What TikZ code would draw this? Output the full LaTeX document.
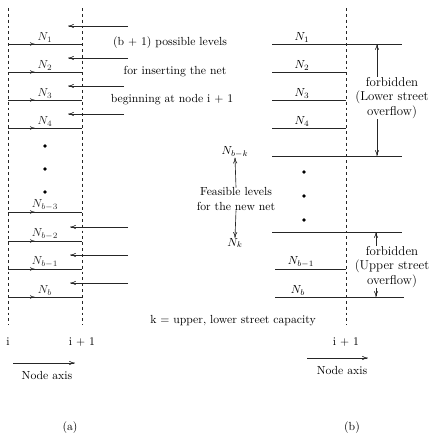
\documentclass[tikz,border=0pt]{standalone}
\usepackage{amsmath}
\usepackage{xcolor}
\colorlet{inkline}{black!85}
\usetikzlibrary{arrows.meta,decorations.markings,positioning}

\begin{document}
\begin{tikzpicture}[
  x=0.3mm, y=-0.3mm,
  font=\normalsize,
  axis/.style={dash pattern=on 2.4pt off 2.6pt, line width=0.5pt, color=inkline},
  level/.style={line width=0.55pt, color=inkline},
  levelarr/.style={
    level, postaction={decorate},
    decoration={markings, mark=at position 0.36 with {\arrow{To[length=4pt,width=3pt]}}}
  },
  arr/.style={-{To[length=5pt,width=3.5pt]}, line width=0.55pt, color=inkline},
  lbl/.style={inner sep=1pt},
  dot/.style={circle, fill=black, inner sep=0pt, minimum size=3.2pt},
  txt/.style={align=center, inner sep=0pt},
  band/.style={txt, font=\fontsize{11}{12.5}\selectfont}
]
\useasboundingbox (0,0) rectangle (429,435);

% (a) node axes
\coordinate (aiTop) at (8,8);
\coordinate (aiBot) at (8,325);
\coordinate (ajTop) at (82,8);
\coordinate (ajBot) at (82,325);
\draw[axis] (aiTop) -- (aiBot);
\draw[axis] (ajTop) -- (ajBot);

% (a) levels
\coordinate (aL1) at (8,44);   \coordinate (aR1) at (82,44);
\coordinate (aL2) at (8,72);   \coordinate (aR2) at (82,72);
\coordinate (aL3) at (8,100);  \coordinate (aR3) at (82,100);
\coordinate (aL4) at (8,128);  \coordinate (aR4) at (82,128);
\coordinate (aL5) at (8,212);  \coordinate (aR5) at (82,212);
\coordinate (aL6) at (8,241);  \coordinate (aR6) at (82,241);
\coordinate (aL7) at (8,269);  \coordinate (aR7) at (82,269);
\coordinate (aL8) at (8,297);  \coordinate (aR8) at (82,297);
\draw[levelarr] (aL1) -- node[lbl, above] (aN1) {$N_1$} (aR1);
\draw[levelarr] (aL2) -- node[lbl, above] (aN2) {$N_2$} (aR2);
\draw[levelarr] (aL3) -- node[lbl, above] (aN3) {$N_3$} (aR3);
\draw[levelarr] (aL4) -- node[lbl, above] (aN4) {$N_4$} (aR4);
\draw[levelarr] (aL5) -- node[lbl, above] (aN5) {$N_{b-3}$} (aR5);
\draw[levelarr] (aL6) -- node[lbl, above] (aN6) {$N_{b-2}$} (aR6);
\draw[levelarr] (aL7) -- node[lbl, above] (aN7) {$N_{b-1}$} (aR7);
\draw[levelarr] (aL8) -- node[lbl, above] (aN8) {$N_b$} (aR8);

\node[dot] (aD1) at (45,146) {};
\node[dot] (aD2) at (45,169) {};
\node[dot] (aD3) at (45,192) {};

% (a) entering arrows
\coordinate (aIn1) at (128,26);  \coordinate (aAt1) at (68,26);
\coordinate (aIn2) at (128,58);  \coordinate (aAt2) at (68,58);
\coordinate (aIn3) at (124,86);  \coordinate (aAt3) at (68,86);
\coordinate (aIn4) at (124,114); \coordinate (aAt4) at (68,114);
\coordinate (aIn5) at (128,227); \coordinate (aAt5) at (70,227);
\coordinate (aIn6) at (128,255); \coordinate (aAt6) at (70,255);
\coordinate (aIn7) at (128,283); \coordinate (aAt7) at (70,283);
\draw[arr] (aIn1) -- (aAt1);
\draw[arr] (aIn2) -- (aAt2);
\draw[arr] (aIn3) -- (aAt3);
\draw[arr] (aIn4) -- (aAt4);
\draw[arr] (aIn5) -- (aAt5);
\draw[arr] (aIn6) -- (aAt6);
\draw[arr] (aIn7) -- (aAt7);

\node[txt] (possible) at (170,43) {(b $+$ 1) possible levels};
\node[txt] (inserting) at (175,72) {for inserting the net};
\node[txt] (beginning) at (172,100) {beginning at node i $+$ 1};

\node[txt] (aNodeI) at (8,342) {i};
\node[txt] (aNodeJ) at (82,342) {i $+$ 1};
\coordinate (aAxS) at (13,363);
\coordinate (aAxE) at (75,363);
\draw[arr] (aAxS) -- (aAxE);
\node[txt] (aAxis) at (47,375) {Node axis};
\node[txt] (capA) at (70,428) {(a)};

\node[txt] (capacity) at (233,321) {k $=$ upper, lower street capacity};

% (b) node axis
\coordinate (bjTop) at (346,8);
\coordinate (bjBot) at (346,325);
\draw[axis] (bjTop) -- (bjBot);

% (b) levels
\coordinate (bL1) at (272,44);  \coordinate (bR1) at (402,44);
\coordinate (bL2) at (272,72);  \coordinate (bR2) at (346,72);
\coordinate (bL3) at (272,100); \coordinate (bR3) at (346,100);
\coordinate (bL4) at (272,128); \coordinate (bR4) at (346,128);
\coordinate (bL5) at (272,156); \coordinate (bR5) at (402,156);
\coordinate (bL6) at (272,232); \coordinate (bR6) at (402,232);
\coordinate (bL7) at (275,269); \coordinate (bR7) at (346,269);
\coordinate (bL8) at (275,297); \coordinate (bR8) at (404,297);
\draw[level] (bL1) -- (bR1);
\draw[level] (bL2) -- (bR2);
\draw[level] (bL3) -- (bR3);
\draw[level] (bL4) -- (bR4);
\draw[level] (bL5) -- (bR5);
\draw[level] (bL6) -- (bR6);
\draw[level] (bL7) -- (bR7);
\draw[level] (bL8) -- (bR8);
\node[lbl, above] (bN1) at (302,44) {$N_1$};
\node[lbl, above] (bN2) at (302,72) {$N_2$};
\node[lbl, above] (bN3) at (302,100) {$N_3$};
\node[lbl, above] (bN4) at (302,128) {$N_4$};
\node[lbl, above] (bN7) at (301,269) {$N_{b-1}$};
\node[lbl, above] (bN8) at (298,297) {$N_b$};

\node[dot] (bD1) at (304,172) {};
\node[dot] (bD2) at (304,196) {};
\node[dot] (bD3) at (304,220) {};

% forbidden bands
\node[band] (lowerOv) at (392,98) {forbidden\\(Lower street\\overflow)};
\coordinate (lowUp) at (377,44);
\coordinate (lowDn) at (377,156);
\draw[arr] (lowerOv.north -| lowUp) -- (lowUp);
\draw[arr] (lowerOv.south -| lowDn) -- (lowDn);

\node[band] (upperOv) at (392,267) {forbidden\\(Upper street\\overflow)};
\coordinate (uppUp) at (376,232);
\coordinate (uppDn) at (376,297);
\draw[arr] (upperOv.north -| uppUp) -- (uppUp);
\draw[arr] (upperOv.south -| uppDn) -- (uppDn);

% feasible band
\node[txt] (feasible) at (236,199) {Feasible levels\\for the new net};
\node[txt] (nbk) at (235,152) {$N_{b-k}$};
\node[txt] (nk) at (235,243) {$N_k$};
\draw[arr] (feasible.north) -- (nbk.south);
\draw[arr] (feasible.south) -- (nk.north);

\node[txt] (bNodeJ) at (346,342) {i $+$ 1};
\coordinate (bAxS) at (307,358);
\coordinate (bAxE) at (368,358);
\draw[arr] (bAxS) -- (bAxE);
\node[txt] (bAxis) at (342,370) {Node axis};
\node[txt] (capB) at (352,428) {(b)};
\end{tikzpicture}
\end{document}
